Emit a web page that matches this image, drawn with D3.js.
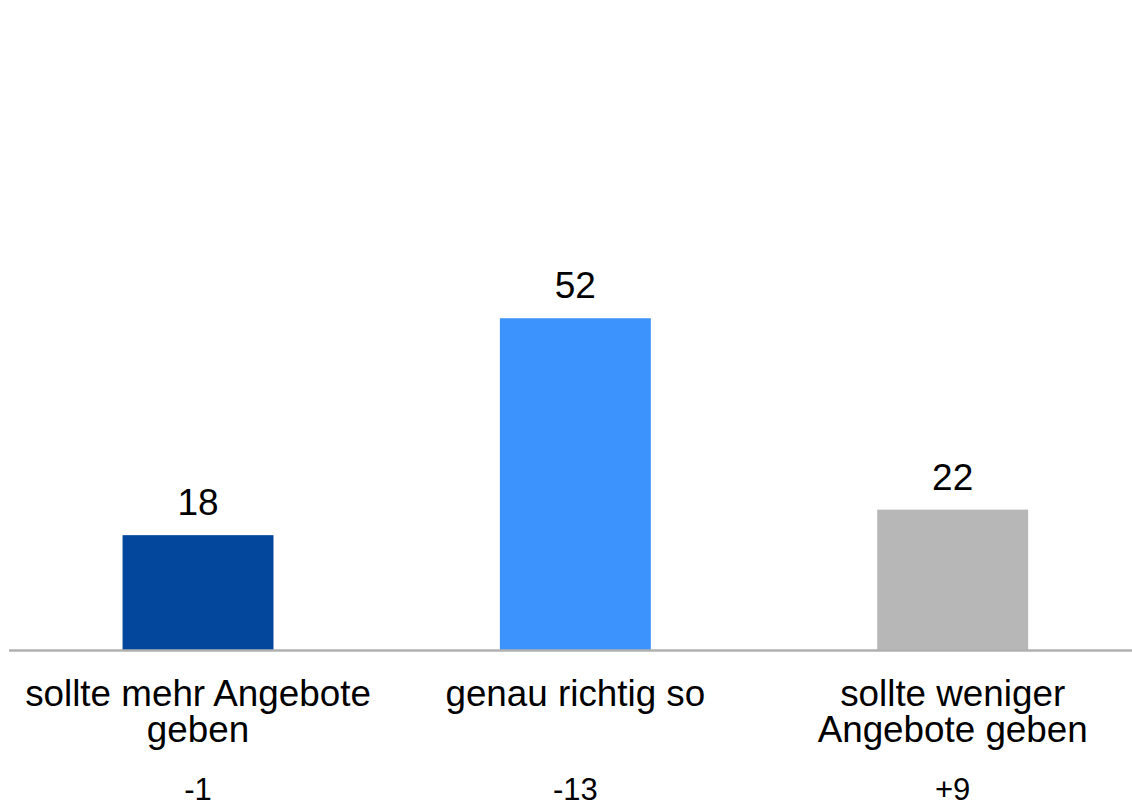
<!DOCTYPE html>
<html>
<head>
<meta charset="utf-8">
<script src="https://cdn.jsdelivr.net/npm/d3@7"></script>
<style>
  html, body { margin: 0; padding: 0; background: #ffffff; }
  svg { display: block; }
  text { font-family: "Liberation Sans", Arial, sans-serif; fill: #000; }
</style>
</head>
<body>
<svg id="chart" width="1132" height="803"></svg>
<script>
// Data
const categories = ["sollte mehr Angebote geben", "genau richtig so", "sollte weniger Angebote geben"];
const categoryLines = [["sollte mehr Angebote", "geben"], ["genau richtig so"], ["sollte weniger", "Angebote geben"]];
const values = [18, 52, 22];
const changes = ["-1", "-13", "+9"];
const colors = ["#03479c", "#3c93fe", "#b7b7b7"];

const svg = d3.select("#chart");
const baseY = 650;

const x = d3.scaleBand()
  .domain(categories)
  .range([9.35, 1141.35])
  .paddingInner(0.6)
  .paddingOuter(0.3);

const y = d3.scaleLinear()
  .domain([0, 100])
  .range([baseY, baseY - 638]);

// Bars
svg.selectAll("rect.bar")
  .data(values)
  .enter().append("rect")
  .attr("class", "bar")
  .attr("x", (d, i) => x(categories[i]))
  .attr("width", x.bandwidth())
  .attr("y", d => y(d))
  .attr("height", d => y(0) - y(d))
  .attr("fill", (d, i) => colors[i]);

// Baseline axis
svg.append("line")
  .attr("x1", 9).attr("x2", 1132)
  .attr("y1", baseY + 0.5).attr("y2", baseY + 0.5)
  .attr("stroke", "#b0b0b0")
  .attr("stroke-width", 2.5);

// Value labels
svg.selectAll("text.val")
  .data(values)
  .enter().append("text")
  .attr("class", "val")
  .attr("x", (d, i) => x(categories[i]) + x.bandwidth() / 2)
  .attr("y", d => y(d) - 20)
  .attr("text-anchor", "middle")
  .style("font-size", "37px")
  .text(d => d);

// Category labels
categories.forEach((c, i) => {
  const t = svg.append("text")
    .attr("x", x(c) + x.bandwidth() / 2)
    .attr("y", 705.5)
    .attr("text-anchor", "middle")
    .style("font-size", "36.8px");
  categoryLines[i].forEach((line, j) => {
    t.append("tspan")
      .attr("x", x(c) + x.bandwidth() / 2)
      .attr("dy", j === 0 ? 0 : 36)
      .text(line);
  });
});

// Change labels
svg.selectAll("text.chg")
  .data(changes)
  .enter().append("text")
  .attr("class", "chg")
  .attr("x", (d, i) => x(categories[i]) + x.bandwidth() / 2)
  .attr("y", 799.5)
  .attr("text-anchor", "middle")
  .style("font-size", "31px")
  .text(d => d);
</script>
</body>
</html>
